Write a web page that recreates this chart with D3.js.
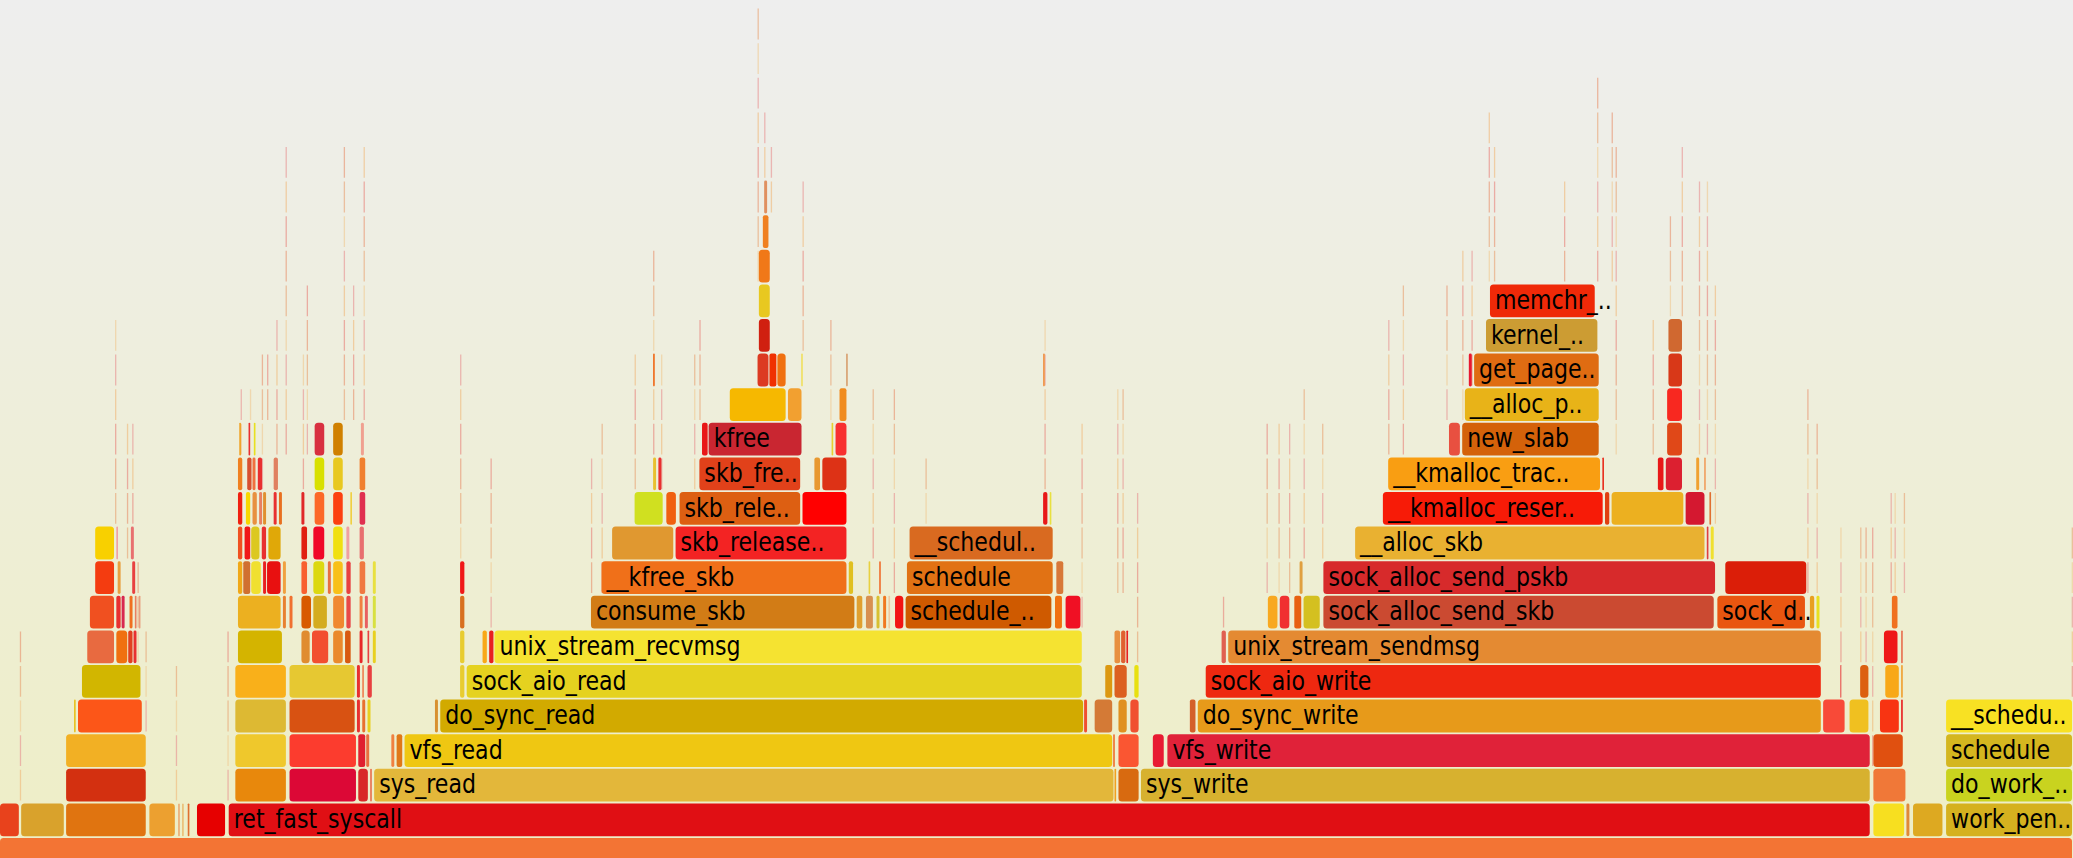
<!DOCTYPE html>
<html><head><meta charset="utf-8">
<script src="https://cdn.jsdelivr.net/npm/d3@7"></script>
<style>html,body{margin:0;padding:0;overflow:hidden;background:#eeeeee}</style>
</head><body>
<svg id="chart" width="2073" height="858"></svg>
<script>
// Flame graph data: each frame = [startSample, samples, label]; total samples on root
const TOTAL_SAMPLES = 1568;
const MAX_DEPTH = 24;

const depth0 = [[0,1568,""]];
const depth1 = [[0,15,""],[16,33,""],[50,61,""],[113,20,""],[135,1.5,""],[138,1.5,""],[142,2,""],[149,22,""],[173,1242,"ret_fast_syscall"],[1417,24,""],[1442,3,""],[1447,23,""],[1472,96,"work_pen.."]];
const depth2 = [[50,61,""],[178,39,""],[219,51,""],[271,8,""],[280,2,""],[283,560,"sys_read"],[843,2,""],[846,16,""],[863,552,"sys_write"],[1417,25,""],[1472,96,"do_work_.."]];
const depth3 = [[50,61,""],[178,39,""],[219,51,""],[271,6,""],[277,3,""],[296,3,""],[300,5,""],[306,536,"vfs_read"],[842,2,""],[846,16,""],[872,9,""],[883,532,"vfs_write"],[1417,23,""],[1472,96,"schedule"]];
const depth4 = [[56,2,""],[59,49,""],[178,39,""],[219,50,""],[270,3,""],[274,3,""],[278,3,""],[329,3,""],[333,487,"do_sync_read"],[820,3,""],[828,14,""],[846,7,""],[855,7,""],[900,5,""],[906,472,"do_sync_write"],[1379,17,""],[1399,15,""],[1422,15,""],[1438,2,""],[1472,96,"__schedu.."]];
const depth5 = [[62,45,""],[178,39,""],[219,50,""],[270,3,""],[274,2,""],[278,4,""],[348,4,""],[353,466,"sock_aio_read"],[836,6,""],[843,10,""],[858,4,""],[912,466,"sock_aio_write"],[1392,1.5,""],[1407,7,""],[1426,11,""],[1438,2,""]];
const depth6 = [[66,21,""],[88,9,""],[97,4,""],[101,3,""],[180,34,""],[228,7,""],[236,13,""],[252,8,""],[261,5,""],[272,3,""],[278,2,""],[282,3,""],[348,4,""],[365,4,""],[370,4,""],[374,445,"unix_stream_recvmsg"],[843,5,""],[848,4,""],[852,2,""],[924,4,""],[929,449,"unix_stream_sendmsg"],[1425,11,""],[1438,2,""]];
const depth7 = [[68,19,""],[88,4,""],[92,3,""],[98,3,""],[102,2,""],[105,2,""],[180,33,""],[214,3,""],[219,3,""],[228,8,""],[237,11,""],[252,9,""],[262,4,""],[272,3,""],[276,3,""],[282,3,""],[348,4,""],[447,200,"consume_skb"],[648,5,""],[655,6,""],[663,3,""],[668,3,""],[672,2,""],[677,7,""],[685,111,"schedule_.."],[798,6,""],[806,12,""],[959,8,""],[968,8,""],[979,6,""],[986,13,""],[1001,296,"sock_alloc_send_skb"],[1299,67,"sock_d.."],[1369,4,""],[1374,3,""],[1431,5,""]];
const depth8 = [[72,15,""],[89,3,""],[100,3,""],[180,4,""],[184,6,""],[190,8,""],[199,3,""],[202,11,""],[214,3,""],[228,5,""],[237,9,""],[248,3,""],[252,8,""],[262,4,""],[272,5,""],[282,3,""],[348,4,""],[455,186,"__kfree_skb"],[642,4,""],[657,2,""],[665,2,""],[686,111,"schedule"],[799,6,""],[983,3,""],[1001,297,"sock_alloc_send_pskb"],[1305,62,""]];
const depth9 = [[72,15,""],[88,2,""],[99,3,""],[180,4,""],[185,5,""],[190,7,""],[198,4,""],[203,10,""],[228,5,""],[237,9,""],[252,8,""],[262,3,""],[272,4,""],[463,47,""],[511,130,"skb_release.."],[688,109,"__schedul.."],[1025,265,"__alloc_skb"],[1291,2,""],[1294,3,""]];
const depth10 = [[180,4,""],[186,4,""],[191,4,""],[196,3,""],[199,3,""],[207,3,""],[211,3,""],[228,3,""],[238,8,""],[252,8,""],[265,2,""],[272,5,""],[480,22,""],[504,8,""],[514,92,"skb_rele.."],[607,34,""],[789,4,""],[794,2,""],[1046,167,"__kmalloc_reser.."],[1214,4,""],[1219,55,""],[1275,15,""],[1293,2,""]];
const depth11 = [[180,4,""],[187,4,""],[191,3,""],[195,4,""],[207,4,""],[238,8,""],[252,8,""],[272,5,""],[494,3,""],[498,3,""],[529,77,"skb_fre.."],[616,5,""],[622,19,""],[1050,161,"__kmalloc_trac.."],[1212,2,""],[1254,5,""],[1260,13,""],[1283,3,""],[1289,2,""]];
const depth12 = [[181,2,""],[188,2,""],[192,2,""],[238,8,""],[252,8,""],[273,3,""],[531,5,""],[536,71,"kfree"],[629,2,""],[632,9,""],[1096,9,""],[1106,104,"new_slab"],[1261,12,""]];
const depth13 = [[552,43,""],[596,11,""],[635,6,""],[1108,102,"__alloc_p.."],[1261,12,""]];
const depth14 = [[494,2,""],[573,9,""],[582,6,""],[588,7,""],[606,2,""],[640,2,""],[789,2,""],[1111,3,""],[1115,95,"get_page.."],[1262,11,""]];
const depth15 = [[574,9,""],[1124,85,"kernel_.."],[1262,11,""]];
const depth16 = [[574,9,""],[1127,80,"memchr_.."]];
const depth17 = [[574,9,""]];
const depth18 = [[577,5,""]];
const depth19 = [[578,3,""]];

// frame colours, in the same order as the frames of each depth
const colors0 = ["#f37434"];
const colors1 = ["#e8421c","#d9a22c","#e07410","#eca030","#e88040","#e8a040","#e07030","#e60000","#e00f14","#f7df20","#e08838","#dda921","#d5b11f"];
const colors2 = ["#d33010","#e8880c","#dc0836","#d82828","#e87050","#e3b73a","#f0a020","#d86a10","#d7b12f","#f07838","#c9d31f"];
const colors3 = ["#f2b024","#efc82c","#fc3c2e","#e02030","#e87040","#f08040","#e07818","#efc712","#f07030","#fa5632","#e81a32","#e02239","#e05010","#d4b61f"];
const colors4 = ["#e8c020","#fc5618","#ddb933","#d85212","#e83030","#e87030","#e8d020","#d89030","#d2aa00","#f05030","#d47a36","#e09020","#f05030","#d4602a","#e79a1a","#f84a38","#f0c020","#f83412","#e82020","#f8e123"];
const colors5 = ["#d2b600","#f9b01a","#e6c832","#e83030","#f08050","#e84040","#e8cc30","#e5d21f","#dc9810","#dc6020","#e8e010","#ee2810","#e84040","#dc6010","#f8a818","#f0a030"];
const colors6 = ["#e86a40","#f07010","#e04020","#e83030","#d4b400","#e08c30","#f24f30","#ea8a2c","#d85a10","#e82828","#e84040","#e8d020","#e8cc30","#f8a818","#e82020","#f5e331","#e89040","#e06030","#e82020","#e06050","#e48a32","#ee1818","#e87050"];
const colors7 = ["#f05020","#e83030","#d82850","#f07020","#e88060","#e8a080","#ecb020","#e88030","#f07030","#d85a00","#d4ac20","#f08830","#e84848","#f08040","#e86060","#d8e040","#d87020","#d27c16","#e0a030","#d89050","#d8c030","#f07820","#f0c8a0","#f21414","#cf5a00","#f07010","#f01024","#f8a820","#f03030","#e86010","#d4c020","#cb4a31","#e95610","#e8a020","#e8e020","#f07020"];
const colors8 = ["#f43c10","#e8a040","#e84040","#f0a818","#d07030","#f0e030","#e82020","#e81010","#f0a040","#f86030","#dcd810","#e87040","#f8c018","#e84040","#f07840","#e8e040","#f01818","#f07019","#e0c020","#e8d040","#f07030","#e17214","#d87838","#e0a040","#d72a2b","#db1e08"];
const colors9 = ["#f8d000","#f0a0a0","#e87070","#f05020","#f01818","#dcc820","#e83030","#e0a808","#e02010","#f00828","#f0e010","#f0a0a0","#e87070","#e09830","#f32323","#d96a20","#e9b131","#e04040","#f0e030"];
const colors10 = ["#f02010","#f8d800","#e89040","#e88060","#e09030","#e83030","#e87020","#e02828","#fc6828","#fc4010","#f0d040","#e03050","#d0e020","#f06010","#dd5f12","#ff0000","#e81818","#e8e040","#f71b07","#e04010","#ecb020","#d41830","#e07030"];
const colors11 = ["#f08020","#d85030","#f07040","#e83030","#e08060","#d8e000","#e8c820","#f08030","#e8c030","#e83030","#e1411a","#e89830","#dd3216","#f99e12","#e83020","#e81818","#dc2030","#f0a030","#f0a060"];
const colors12 = ["#f0a020","#e83030","#e8e020","#d83040","#d08000","#f0a090","#e81818","#c92631","#e8d030","#f83030","#e85040","#d4620a","#e04818"];
const colors13 = ["#f6b800","#f2a030","#f08c20","#e8b318","#f82820"];
const colors14 = ["#f07020","#dc3a22","#f03000","#f07010","#f0e060","#d8a070","#f09040","#e81830","#df6c12","#d83818"];
const colors15 = ["#d02010","#cc9c33","#d06830"];
const colors16 = ["#e8c820","#ef2908"];
const colors17 = ["#f07818"];
const colors18 = ["#f08020"];
const colors19 = ["#e09060"];

// one-sample-wide stacks: [startSample, lowest depth, highest depth]
const thinStacks = [[15,2,6],[87,10,15],[96,9,12],[100,10,12],[104,6,8],[110,4,6],[133,2,5],[172,2,6],[182,12,13],[189,13,13],[198,11,14],[202,13,14],[209,12,15],[216,12,20],[229,11,14],[232,12,16],[260,13,20],[267,13,16],[275,13,20],[348,9,14],[371,7,11],[400,3,6],[447,8,11],[455,8,12],[480,11,14],[494,12,17],[500,11,14],[525,9,14],[529,13,15],[573,17,24],[578,20,21],[583,19,20],[607,15,19],[628,13,15],[660,9,13],[676,8,13],[700,8,11],[790,11,15],[818,7,12],[845,8,13],[849,8,13],[860,6,10],[925,6,7],[958,8,12],[967,8,12],[975,8,12],[986,9,13],[1000,9,12],[1050,12,15],[1061,11,16],[1094,13,16],[1106,13,17],[1113,12,17],[1126,17,21],[1130,17,20],[1183,17,19],[1208,17,22],[1219,17,21],[1222,12,20],[1250,12,15],[1263,16,18],[1272,16,20],[1285,12,19],[1291,12,19],[1297,10,16],[1367,8,13],[1374,8,12],[1392,6,9],[1407,6,9],[1411,4,9],[1416,3,9],[1430,8,10],[1433,8,10],[1440,8,10],[1567,5,9]];
const thinColors = ["#e8906a","#e88078","#f0b878","#e89090","#f0c890","#e8a070"];

const rows = [depth0,depth1,depth2,depth3,depth4,depth5,depth6,depth7,depth8,depth9,depth10,depth11,depth12,depth13,depth14,depth15,depth16,depth17,depth18,depth19];
const rowColors = [colors0,colors1,colors2,colors3,colors4,colors5,colors6,colors7,colors8,colors9,colors10,colors11,colors12,colors13,colors14,colors15,colors16,colors17,colors18,colors19];

const W = 2073, H = 858;
const ROW = 34.6, BAR = 32.8, BASE = 838;
const svg = d3.select("#chart");

const defs = svg.append("defs");
const grad = defs.append("linearGradient").attr("id","bg").attr("x1",0).attr("y1",0).attr("x2",0).attr("y2",1);
grad.append("stop").attr("offset","0%").attr("stop-color","#eeeeee");
grad.append("stop").attr("offset","100%").attr("stop-color","#eeeec6");
svg.append("rect").attr("width",W).attr("height",H).attr("fill","url(#bg)");

const x = d3.scaleLinear().domain([0, TOTAL_SAMPLES]).range([0, W]);
const y = d3.scaleLinear().domain([0, MAX_DEPTH]).range([BASE, BASE - MAX_DEPTH*ROW]);

const frames = [];
thinStacks.forEach((s, i) => {
  for (let d = s[1]; d <= s[2]; d++) {
    frames.push({depth:d, start:s[0], value:0.8, name:"", color:thinColors[(i + d) % thinColors.length], thin:true});
  }
});
rows.forEach((row, d) => row.forEach((f, i) => {
  frames.push({depth:d, start:f[0], value:f[1], name:f[2], color:rowColors[d][i] || "#e8a040", thin:false});
}));

const g = svg.append("g");
g.selectAll("rect.f").data(frames).join("rect")
  .attr("class","f")
  .attr("x", d => x(d.start))
  .attr("y", d => y(d.depth) + (d.thin ? 1 : 0))
  .attr("width", d => d.thin ? 1.3 : Math.max(x(d.start + d.value) - x(d.start) - 1, 1))
  .attr("height", d => d.thin ? BAR - 2 : BAR)
  .attr("rx", d => { const w = x(d.start + d.value) - x(d.start) - 1; return w > 8 ? 3.5 : Math.max(0, Math.min(2, w/2)); })
  .attr("fill", d => d.color)
  .attr("opacity", d => d.thin ? 0.6 : 1);

g.selectAll("text.l").data(frames.filter(d => d.name)).join("text")
  .attr("class","l")
  .attr("transform", d => `translate(${x(d.start) + 5},${y(d.depth) + 24.5}) scale(0.85,1)`)
  .attr("font-family","'DejaVu Sans', Verdana, sans-serif")
  .attr("font-size", 26)
  .attr("fill","#000")
  .text(d => d.name);
</script>
</body></html>
